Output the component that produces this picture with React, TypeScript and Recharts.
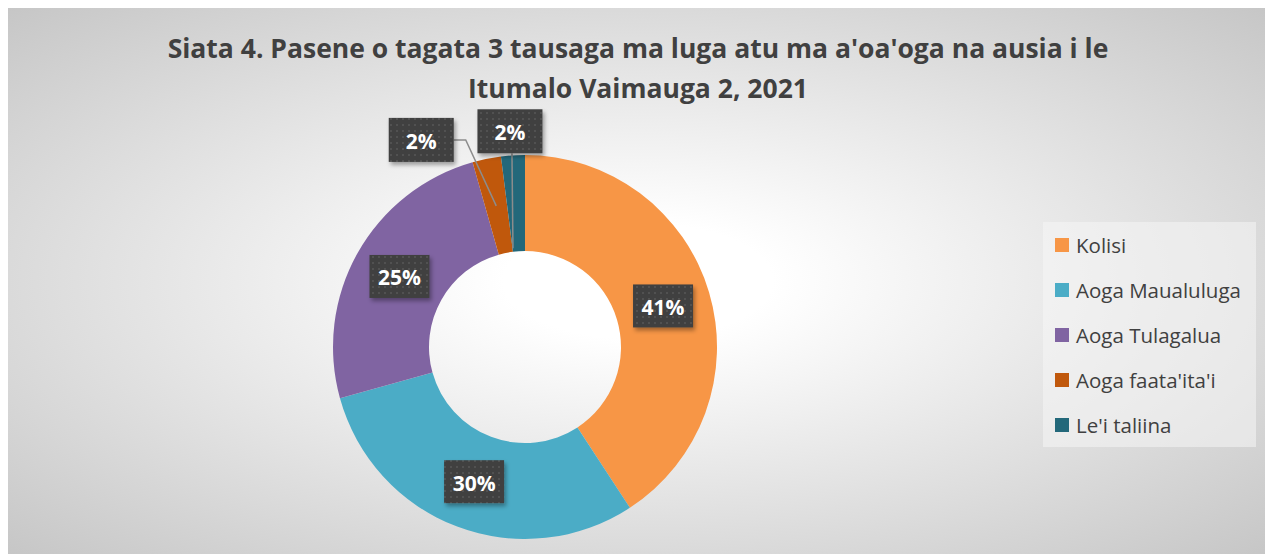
import React from 'react';
import { PieChart, Pie, Cell } from 'recharts';

const categories = ['Kolisi', 'Aoga Maualuluga', 'Aoga Tulagalua', "Aoga faata'ita'i", "Le'i taliina"];
const values = [40.8, 29.9, 24.9, 2.4, 2.0];
const colors = ['#F79646', '#4BACC6', '#8064A2', '#C0580C', '#23687A'];
const titleLines = ["Siata 4. Pasene o tagata 3 tausaga ma luga atu ma a'oa'oga na ausia i le", 'Itumalo Vaimauga 2, 2021'];

const data = categories.map((name, i) => ({ name, value: values[i] }));

const W = 1268;
const H = 546;
const FONT = "'Open Sans', 'Noto Sans', sans-serif";
const RAD = Math.PI / 180;

// callout offsets (layout) for the small slices whose labels sit outside the ring
const callouts: Record<number, { dx: number; dy: number; kind: 'elbow' | 'straight' }> = {
  3: { dx: -75, dy: -66, kind: 'elbow' },
  4: { dx: -6, dy: -72, kind: 'straight' },
};

const renderLabel = (props: any) => {
  const { cx, cy, midAngle, innerRadius, outerRadius, percent, index } = props;
  const r = (innerRadius + outerRadius) / 2;
  const ax = cx + r * Math.cos(-midAngle * RAD);
  const ay = cy + r * Math.sin(-midAngle * RAD);
  const text = `${Math.round(percent * 100)}%`;
  const c = callouts[index];
  let bx = ax;
  let by = ay;
  let bw = 60;
  let bh = 43;
  let line: React.ReactNode = null;
  if (c) {
    bx = ax + c.dx;
    by = ay + c.dy;
    bw = 65;
    bh = 44;
    if (c.kind === 'elbow') {
      const x0 = bx + bw / 2;
      line = (
        <polyline
          points={`${x0},${by} ${x0 + 12},${by} ${ax},${ay}`}
          fill="none"
          stroke="#8c8c8c"
          strokeWidth={1.5}
        />
      );
    } else {
      line = (
        <polyline
          points={`${bx + 2},${by + bh / 2} ${bx + 3},${ay + 45}`}
          fill="none"
          stroke="#8c8c8c"
          strokeWidth={1.5}
        />
      );
    }
  }
  return (
    <g key={`lbl-${index}`}>
      {line}
      <rect
        x={bx - bw / 2}
        y={by - bh / 2}
        width={bw}
        height={bh}
        fill="url(#dotPattern)"
        filter="url(#boxShadow)"
      />
      <text
        x={bx}
        y={by + 1}
        textAnchor="middle"
        dominantBaseline="central"
        fill="#ffffff"
        fontFamily={FONT}
        fontWeight={700}
        fontSize={21}
      >
        {text}
      </text>
    </g>
  );
};

export default function App() {
  return (
    <div
      style={{
        position: 'relative',
        width: W,
        height: H,
        marginLeft: -4,
        background:
          'radial-gradient(ellipse farthest-corner at 50% 50%, #ffffff 0%, #ffffff 15%, #c6c6c6 100%)',
        fontFamily: FONT,
        overflow: 'hidden',
      }}
    >
      <svg width={0} height={0} style={{ position: 'absolute' }}>
        <defs>
          <pattern id="dotPattern" width="6" height="6" patternUnits="userSpaceOnUse">
            <rect width="6" height="6" fill="#3f3f3f" />
            <rect x="2" y="2" width="2" height="2" fill="#515151" />
          </pattern>
          <filter id="boxShadow" x="-20%" y="-20%" width="150%" height="160%">
            <feDropShadow dx="2" dy="3" stdDeviation="2" floodColor="#000" floodOpacity="0.35" />
          </filter>
        </defs>
      </svg>
      <div
        style={{
          position: 'absolute',
          top: 20,
          left: 0,
          width: W,
          textAlign: 'center',
          fontSize: 26.5,
          fontWeight: 700,
          lineHeight: '40px',
          color: '#404040',
        }}
      >
        {titleLines.map((t, i) => (
          <div key={i}>{t}</div>
        ))}
      </div>
      <div style={{ position: 'absolute', top: 0, left: 0 }}>
        <PieChart width={W} height={H} margin={{ top: 0, right: 0, bottom: 0, left: 0 }}>
          <Pie
            data={data}
            dataKey="value"
            nameKey="name"
            cx={521}
            cy={339}
            innerRadius={96}
            outerRadius={192}
            startAngle={90}
            endAngle={-270}
            stroke="none"
            label={renderLabel}
            labelLine={false}
            isAnimationActive={false}
          >
            {data.map((d, i) => (
              <Cell key={d.name} fill={colors[i]} />
            ))}
          </Pie>
        </PieChart>
      </div>
      <div
        style={{
          position: 'absolute',
          left: 1039,
          top: 214,
          width: 213,
          height: 225,
          background: 'rgba(245,245,245,0.55)',
        }}
      >
        {categories.map((name, i) => (
          <div
            key={name}
            style={{
              position: 'absolute',
              left: 12,
              top: 9 + i * 45,
              height: 28,
              display: 'flex',
              alignItems: 'center',
              whiteSpace: 'nowrap',
            }}
          >
            <div style={{ width: 14, height: 14, background: colors[i], marginRight: 7 }} />
            <span style={{ fontSize: 20.5, color: '#404040' }}>{name}</span>
          </div>
        ))}
      </div>
    </div>
  );
}
